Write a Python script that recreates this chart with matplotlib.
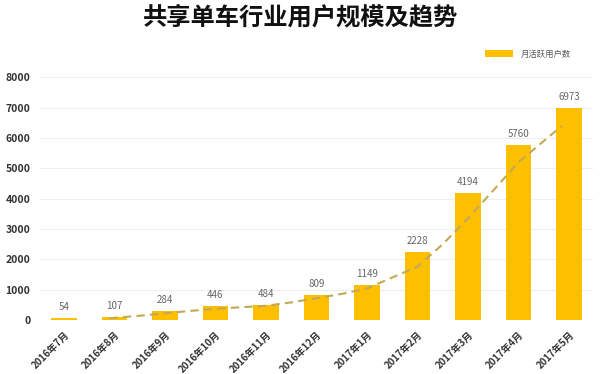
import matplotlib
matplotlib.use("Agg")
import matplotlib.pyplot as plt

plt.rcParams['font.family'] = ['Noto Sans CJK SC', 'DejaVu Sans']

MONTHS = ["2016年7月", "2016年8月", "2016年9月", "2016年10月", "2016年11月",
          "2016年12月", "2017年1月", "2017年2月", "2017年3月", "2017年4月",
          "2017年5月"]
USERS = [54, 107, 284, 446, 484, 809, 1149, 2228, 4194, 5760, 6973]

# trend curve (position in month index, value)
TREND_POS = [0.9, 1.5, 2, 2.5, 3, 3.5, 4, 4.5, 5, 5.5, 6, 6.5, 7, 7.5, 8, 8.5, 9, 9.5, 9.86]
TREND_VAL = [60, 140, 220, 300, 370, 420, 470, 580, 720, 860, 1040, 1400, 1760,
             2500, 3350, 4270, 5200, 5900, 6400]

BAR_COLOR = "#FDBF00"
TREND_COLOR = "#C2A955"

fig = plt.figure(figsize=(6.0, 3.74), dpi=100)
ax = fig.add_axes([40 / 600, 1 - 320 / 374, 553 / 600, 242.7 / 374])

x = list(range(len(MONTHS)))
ax.bar(x, USERS, width=0.5, color=BAR_COLOR, label="月活跃用户数", zorder=2)
ax.plot(TREND_POS, TREND_VAL, color=TREND_COLOR, lw=1.5, ls=(0, (4, 2.5)), zorder=3)

for xi, v in zip(x, USERS):
    ax.text(xi, v + 200, str(v), ha="center", va="bottom", fontsize=7, color="#666666")

ax.set_xlim(-0.475, 10.475)
ax.set_ylim(0, 8000)
ax.set_yticks(range(0, 8001, 1000))
ax.yaxis.grid(True, color="#EEEEEE", lw=0.8, zorder=0)
ax.set_axisbelow(True)
for s in ax.spines.values():
    s.set_visible(False)
ax.tick_params(length=0)
ax.tick_params(axis="y", pad=7, labelsize=7.5, labelcolor="#333333")
for lbl in ax.get_yticklabels():
    lbl.set_fontweight("bold")

ax.set_xticks(x)
ax.set_xticklabels(MONTHS, rotation=45, ha="right", rotation_mode="anchor",
                   fontsize=7, fontweight="bold", color="#333333")
ax.tick_params(axis="x", pad=7)

fig.text(0.5, 1 - 18 / 374, "共享单车行业用户规模及趋势", ha="center", va="center",
         fontsize=17.5, fontweight="bold", color="#111111")

leg = ax.legend(loc="center left", bbox_to_anchor=(485 / 600, 1 - 54 / 374),
                bbox_transform=fig.transFigure, frameon=False, fontsize=6,
                handlelength=3.4, handleheight=0.8, borderpad=0, borderaxespad=0,
                handletextpad=0.9)
for t in leg.get_texts():
    t.set_color("#555555")

fig.savefig("out.png", dpi=100, facecolor="white")
